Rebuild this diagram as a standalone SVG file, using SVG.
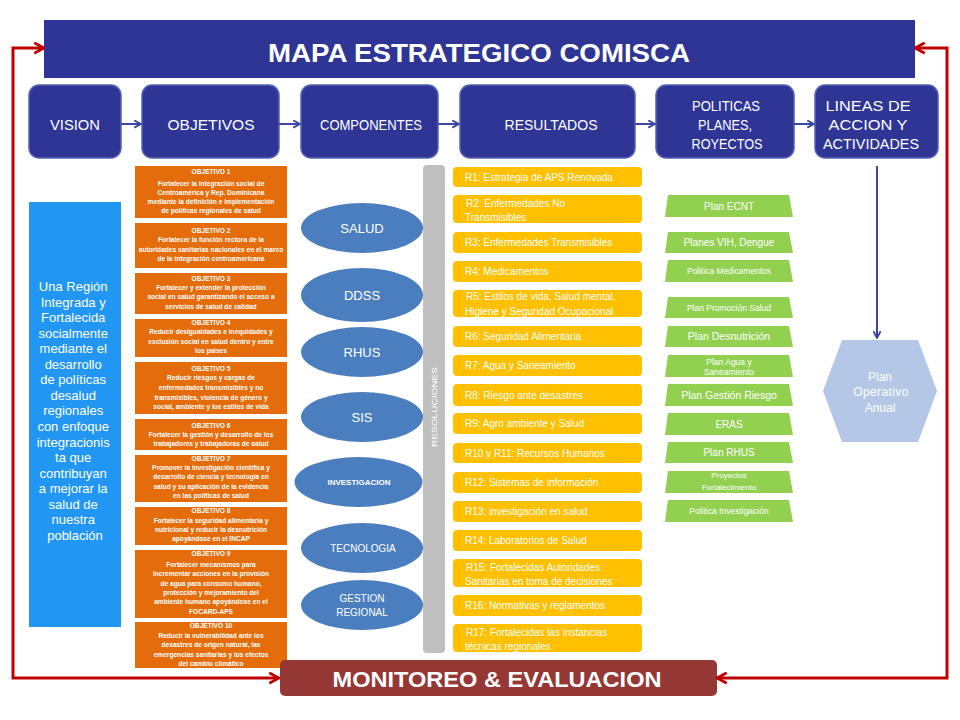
<svg xmlns="http://www.w3.org/2000/svg" width="960" height="720" viewBox="0 0 960 720">
<defs>
<style>
text{font-family:"Liberation Sans",Arial,sans-serif;fill:#fff}
.hdr{fill:#2e3595}
.top{fill:#2e3595;stroke:#5362b3;stroke-width:1.5}
.toptx{font-size:15px;text-anchor:middle}
.obj{fill:#e46c0a}
.objt{font-size:6.6px;font-weight:bold;text-anchor:middle}
.ell{fill:#4a7ebf}
.ellt{text-anchor:middle}
.res{fill:#ffc000}
.rest{font-size:10px}
.grn{fill:#92d050}
.grnt{text-anchor:middle}
.red{fill:none;stroke:#c00000;stroke-width:3}
.nav{fill:none;stroke:#3b47a3;stroke-width:2}
</style>
<marker id="ar" viewBox="0 0 10 10" refX="9" refY="5" markerWidth="13" markerHeight="13" markerUnits="userSpaceOnUse" orient="auto-start-reverse">
<path d="M1.5,1 L9,5 L1.5,9" fill="none" stroke="#c00000" stroke-width="2.2"/>
</marker>
<marker id="an" viewBox="0 0 10 10" refX="9" refY="5" markerWidth="9" markerHeight="9" markerUnits="userSpaceOnUse" orient="auto">
<path d="M1.5,1 L9,5 L1.5,9" fill="none" stroke="#3b47a3" stroke-width="2"/>
</marker>
</defs>
<rect width="960" height="720" fill="#fff"/>

<g id="header">
<rect class="hdr" x="44" y="20" width="871" height="58"/>
<text x="479" y="62" font-size="26" font-weight="bold" text-anchor="middle" textLength="422" lengthAdjust="spacingAndGlyphs">MAPA ESTRATEGICO COMISCA</text>
</g>

<g id="vision-box">
<rect class="top" x="29" y="85" width="92" height="73" rx="10"/>
<text class="toptx" x="75" y="130" textLength="50" lengthAdjust="spacingAndGlyphs">VISION</text>
</g>
<g id="objetivos-box">
<rect class="top" x="142" y="85" width="137" height="73" rx="10"/>
<text class="toptx" x="211" y="130" textLength="87" lengthAdjust="spacingAndGlyphs">OBJETIVOS</text>
</g>
<g id="componentes-box">
<rect class="top" x="301" y="85" width="137" height="73" rx="10"/>
<text class="toptx" x="371" y="130" textLength="102" lengthAdjust="spacingAndGlyphs">COMPONENTES</text>
</g>
<g id="resultados-box">
<rect class="top" x="460" y="85" width="175" height="73" rx="10"/>
<text class="toptx" x="551" y="130" textLength="93" lengthAdjust="spacingAndGlyphs">RESULTADOS</text>
</g>
<g id="politicas-box">
<rect class="top" x="656" y="85" width="138" height="73" rx="10"/>
<text class="toptx" x="726" y="111" font-size="14" textLength="68" lengthAdjust="spacingAndGlyphs">POLITICAS</text>
<text class="toptx" x="725" y="130" font-size="14" textLength="54" lengthAdjust="spacingAndGlyphs">PLANES,</text>
<text class="toptx" x="727" y="149" font-size="14" textLength="71" lengthAdjust="spacingAndGlyphs">ROYECTOS</text>
</g>
<g id="lineas-box">
<rect class="top" x="815" y="85" width="123" height="73" rx="10"/>
<text class="toptx" x="868" y="111" font-size="14" textLength="85" lengthAdjust="spacingAndGlyphs">LINEAS DE</text>
<text class="toptx" x="868" y="130" font-size="14" textLength="79" lengthAdjust="spacingAndGlyphs">ACCION Y</text>
<text class="toptx" x="871" y="149" font-size="14" textLength="96" lengthAdjust="spacingAndGlyphs">ACTIVIDADES</text>
</g>

<g id="vision-text">
<rect x="29" y="202" width="92" height="425" fill="#2196f3"/>
<text x="75" y="291" font-size="13" text-anchor="middle">
<tspan x="75">Una Región</tspan>
<tspan x="75" dy="15.55">Integrada y</tspan>
<tspan x="75" dy="15.55">Fortalecida</tspan>
<tspan x="75" dy="15.55">socialmente</tspan>
<tspan x="75" dy="15.55">mediante el</tspan>
<tspan x="75" dy="15.55">desarrollo</tspan>
<tspan x="75" dy="15.55">de políticas</tspan>
<tspan x="75" dy="15.55">desalud</tspan>
<tspan x="75" dy="15.55">regionales</tspan>
<tspan x="75" dy="15.55">con enfoque</tspan>
<tspan x="75" dy="15.55">integracionis</tspan>
<tspan x="75" dy="15.55">ta que</tspan>
<tspan x="75" dy="15.55">contribuyan</tspan>
<tspan x="75" dy="15.55">a mejorar la</tspan>
<tspan x="75" dy="15.55">salud de</tspan>
<tspan x="75" dy="15.55">nuestra</tspan>
<tspan x="75" dy="15.55">población</tspan>
</text>
</g>

<g id="objetivo-1">
<rect class="obj" x="135" y="166" width="152" height="52"/>
<text class="objt"><tspan x="211" y="174">OBJETIVO 1</tspan><tspan x="211" y="186">Fortalecer la integración social de</tspan><tspan x="211" y="195">Centroamérica y Rep. Dominicana</tspan><tspan x="211" y="204">mediante la definición e implementación</tspan><tspan x="211" y="213">de políticas regionales de salud</tspan></text>
</g>
<g id="objetivo-2">
<rect class="obj" x="135" y="223" width="152" height="45"/>
<text class="objt"><tspan x="211" y="233">OBJETIVO 2</tspan><tspan x="211" y="242">Fortalecer la función rectora de la</tspan><tspan x="211" y="252">autoridades sanitarias nacionales en el marco</tspan><tspan x="211" y="261">de la integración centroamericana</tspan></text>
</g>
<g id="objetivo-3">
<rect class="obj" x="135" y="273" width="152" height="41"/>
<text class="objt"><tspan x="211" y="281">OBJETIVO 3</tspan><tspan x="211" y="290">Fortalecer y extender la protección</tspan><tspan x="211" y="299">social en salud garantizando el acceso a</tspan><tspan x="211" y="309">servicios de salud de calidad</tspan></text>
</g>
<g id="objetivo-4">
<rect class="obj" x="135" y="319" width="152" height="38"/>
<text class="objt"><tspan x="211" y="325">OBJETIVO 4</tspan><tspan x="211" y="334">Reducir desigualdades e inequidades y</tspan><tspan x="211" y="344">exclusión social en salud dentro y entre</tspan><tspan x="211" y="353">los países</tspan></text>
</g>
<g id="objetivo-5">
<rect class="obj" x="135" y="362" width="152" height="52"/>
<text class="objt"><tspan x="211" y="371">OBJETIVO 5</tspan><tspan x="211" y="380">Reducir riesgos y cargas de</tspan><tspan x="211" y="390">enfermedades transmisibles y no</tspan><tspan x="211" y="400">transmisibles, violencia de género y</tspan><tspan x="211" y="409">social, ambiente y los estilos de vida</tspan></text>
</g>
<g id="objetivo-6">
<rect class="obj" x="135" y="419" width="152" height="31"/>
<text class="objt"><tspan x="211" y="428">OBJETIVO 6</tspan><tspan x="211" y="437">Fortalecer la gestión y desarrollo de los</tspan><tspan x="211" y="446">trabajadores y trabajadoras de salud</tspan></text>
</g>
<g id="objetivo-7">
<rect class="obj" x="135" y="455" width="152" height="47"/>
<text class="objt"><tspan x="211" y="461">OBJETIVO 7</tspan><tspan x="211" y="470">Promover la investigación científica y</tspan><tspan x="211" y="479">desarrollo de ciencia y tecnología en</tspan><tspan x="211" y="489">salud y su aplicación de la evidencia</tspan><tspan x="211" y="498">en las políticas de salud</tspan></text>
</g>
<g id="objetivo-8">
<rect class="obj" x="135" y="507" width="152" height="38"/>
<text class="objt"><tspan x="211" y="513">OBJETIVO 8</tspan><tspan x="211" y="523">Fortalecer la seguridad alimentaria y</tspan><tspan x="211" y="532">nutricional y reducir la desnutrición</tspan><tspan x="211" y="541">apoyándose en el INCAP</tspan></text>
</g>
<g id="objetivo-9">
<rect class="obj" x="135" y="550" width="152" height="68"/>
<text class="objt"><tspan x="211" y="556">OBJETIVO 9</tspan><tspan x="211" y="567">Fortalecer mecanismos para</tspan><tspan x="211" y="576">incrementar acciones en la provisión</tspan><tspan x="211" y="586">de agua para consumo humano,</tspan><tspan x="211" y="595">protección y mejoramiento del</tspan><tspan x="211" y="604">ambiente humano apoyándose en el</tspan><tspan x="211" y="614">FOCARD-APS</tspan></text>
</g>
<g id="objetivo-10">
<rect class="obj" x="135" y="622" width="152" height="46"/>
<text class="objt"><tspan x="211" y="628">OBJETIVO 10</tspan><tspan x="211" y="638">Reducir la vulnerabilidad ante los</tspan><tspan x="211" y="647">desastres de origen natural, las</tspan><tspan x="211" y="657">emergencias sanitarias y los efectos</tspan><tspan x="211" y="666">del cambio climático</tspan></text>
</g>

<g id="comp-salud"><ellipse class="ell" cx="362" cy="228" rx="61" ry="25"/><text class="ellt" x="362" y="232.5" font-size="13">SALUD</text></g>
<g id="comp-ddss"><ellipse class="ell" cx="362" cy="295" rx="61" ry="27"/><text class="ellt" x="362" y="299.5" font-size="13">DDSS</text></g>
<g id="comp-rhus"><ellipse class="ell" cx="362" cy="352" rx="61" ry="25"/><text class="ellt" x="362" y="356.5" font-size="13">RHUS</text></g>
<g id="comp-sis"><ellipse class="ell" cx="362" cy="417" rx="61" ry="25"/><text class="ellt" x="362" y="421.5" font-size="13">SIS</text></g>
<g id="comp-investigacion"><ellipse class="ell" cx="358.5" cy="482" rx="64" ry="25"/><text class="ellt" x="359" y="485" font-size="8" font-weight="bold">INVESTIGACION</text></g>
<g id="comp-tecnologia"><ellipse class="ell" cx="362" cy="548" rx="61" ry="25"/><text class="ellt" x="363" y="551.5" font-size="10">TECNOLOGIA</text></g>
<g id="comp-gestion"><ellipse class="ell" cx="362" cy="605" rx="61" ry="25"/><text class="ellt" x="362" y="601.5" font-size="10">GESTION</text><text class="ellt" x="362" y="615.5" font-size="10">REGIONAL</text></g>

<g id="resoluciones">
<rect x="423" y="165" width="22" height="488" rx="4" fill="#bfbfbf"/>
<text x="0" y="0" font-size="8" text-anchor="middle" textLength="80" lengthAdjust="spacingAndGlyphs" transform="translate(437,407) rotate(-90)">RESOLUCIONES</text>
</g>

<g id="r1"><rect class="res" x="453" y="167" width="189" height="20" rx="4"/><text class="rest" x="465" y="180.5">R1: Estrategia de APS Renovada</text></g>
<g id="r2"><rect class="res" x="453" y="195" width="189" height="28" rx="4"/><text class="rest" x="466" y="206.5">R2: Enfermedades No</text><text class="rest" x="465" y="220.5">Transmisibles</text></g>
<g id="r3"><rect class="res" x="453" y="232" width="189" height="21" rx="4"/><text class="rest" x="465" y="246">R3: Enfermedades Transmisibles</text></g>
<g id="r4"><rect class="res" x="453" y="261" width="189" height="21" rx="4"/><text class="rest" x="465" y="275">R4: Medicamentos</text></g>
<g id="r5"><rect class="res" x="453" y="290" width="189" height="27" rx="4"/><text class="rest" x="466" y="299.5">R5: Estilos de vida, Salud  mental,</text><text class="rest" x="465" y="314.5">Higiene y Seguridad Ocupacional</text></g>
<g id="r6"><rect class="res" x="453" y="326" width="189" height="21" rx="4"/><text class="rest" x="465" y="340">R6: Seguridad Alimentaria</text></g>
<g id="r7"><rect class="res" x="453" y="355" width="189" height="21" rx="4"/><text class="rest" x="465" y="369">R7: Agua y Saneamiento</text></g>
<g id="r8"><rect class="res" x="453" y="384" width="189" height="22" rx="4"/><text class="rest" x="465" y="398.5">R8: Riesgo ante desastres</text></g>
<g id="r9"><rect class="res" x="453" y="413" width="189" height="21" rx="4"/><text class="rest" x="465" y="427">R9: Agro ambiente y Salud</text></g>
<g id="r10"><rect class="res" x="453" y="443" width="189" height="20" rx="4"/><text class="rest" x="465" y="456.5">R10 y R11: Recursos Humanos</text></g>
<g id="r12"><rect class="res" x="453" y="472" width="189" height="21" rx="4"/><text class="rest" x="465" y="486">R12: Sistemas de información</text></g>
<g id="r13"><rect class="res" x="453" y="501" width="189" height="21" rx="4"/><text class="rest" x="465" y="515">R13: investigación en salud</text></g>
<g id="r14"><rect class="res" x="453" y="530" width="189" height="21" rx="4"/><text class="rest" x="465" y="544">R14: Laboratorios  de Salud</text></g>
<g id="r15"><rect class="res" x="453" y="559" width="189" height="28" rx="4"/><text class="rest" x="466" y="570.5">R15: Fortalecidas Autoridades</text><text class="rest" x="465" y="584.5">Sanitarias en toma de decisiones</text></g>
<g id="r16"><rect class="res" x="453" y="595" width="189" height="21" rx="4"/><text class="rest" x="465" y="609">R16: Normativas y reglamentos</text></g>
<g id="r17"><rect class="res" x="453" y="624" width="189" height="28" rx="4"/><text class="rest" x="466" y="635.5">R17: Fortalecidas las instancias</text><text class="rest" x="465" y="649.5">técnicas regionales</text></g>

<g id="p1"><polygon class="grn" points="668,195 789,195 793,217 665,217"/><text class="grnt" x="729" y="209.5" font-size="10">Plan ECNT</text></g>
<g id="p2"><polygon class="grn" points="668,232 789,232 793,253 665,253"/><text class="grnt" x="729" y="246" font-size="10">Planes VIH, Dengue</text></g>
<g id="p3"><polygon class="grn" points="668,260 789,260 793,282 665,282"/><text class="grnt" x="729" y="274" font-size="8.4">Politica Medicamentos</text></g>
<g id="p4"><polygon class="grn" points="668,297 789,297 793,318 665,318"/><text class="grnt" x="729" y="310.5" font-size="8.5">Plan Promoción Salud</text></g>
<g id="p5"><polygon class="grn" points="668,326 789,326 793,347 665,347"/><text class="grnt" x="729" y="340" font-size="10.5">Plan Desnutrición</text></g>
<g id="p6"><polygon class="grn" points="668,355 789,355 793,377 665,377"/><text class="grnt" x="729" y="365" font-size="8.5">Plan  Agua y</text><text class="grnt" x="729" y="375" font-size="8.5">Saneamiento</text></g>
<g id="p7"><polygon class="grn" points="668,384 789,384 793,406 665,406"/><text class="grnt" x="729" y="398.5" font-size="10.5">Plan  Gestión Riesgo</text></g>
<g id="p8"><polygon class="grn" points="668,413 789,413 793,435 665,435"/><text class="grnt" x="729" y="427.5" font-size="10">ERAS</text></g>
<g id="p9"><polygon class="grn" points="668,442 789,442 793,463 665,463"/><text class="grnt" x="729" y="456" font-size="10">Plan RHUS</text></g>
<g id="p10"><polygon class="grn" points="668,471 789,471 793,493 665,493"/><text class="grnt" x="729" y="478" font-size="8">Proyectos</text><text class="grnt" x="729" y="490" font-size="8">Fortalecimiento</text></g>
<g id="p11"><polygon class="grn" points="668,500 789,500 793,522 665,522"/><text class="grnt" x="729" y="514" font-size="8.5">Politica Investigación</text></g>

<g id="plan-operativo">
<polygon points="842,340 918,340 937,391 918,442 842,442 823,391" fill="#b4c7e7"/>
<text x="880" y="381" font-size="12" text-anchor="middle">Plan</text>
<text x="881" y="396" font-size="12" text-anchor="middle" letter-spacing="0.4">Operativo</text>
<text x="880" y="412" font-size="12" text-anchor="middle">Anual</text>
</g>

<g id="monitoreo">
<rect x="280" y="660" width="437" height="36" rx="5" fill="#953735"/>
<text x="497" y="687" font-size="22" font-weight="bold" text-anchor="middle" textLength="329" lengthAdjust="spacingAndGlyphs">MONITOREO &amp; EVALUACION</text>
</g>

<g id="connectors">
<path class="nav" d="M121,124 H141" marker-end="url(#an)"/>
<path class="nav" d="M279,124 H300" marker-end="url(#an)"/>
<path class="nav" d="M438,124 H459" marker-end="url(#an)"/>
<path class="nav" d="M635,124 H655" marker-end="url(#an)"/>
<path class="nav" d="M794,124 H814" marker-end="url(#an)"/>
<path class="nav" d="M877,166 V338" marker-end="url(#an)"/>
<path class="red" d="M44,48 H13 V678 H279" marker-start="url(#ar)" marker-end="url(#ar)"/>
<path class="red" d="M915,48 H947 V678 H717" marker-start="url(#ar)" marker-end="url(#ar)"/>
</g>
</svg>
